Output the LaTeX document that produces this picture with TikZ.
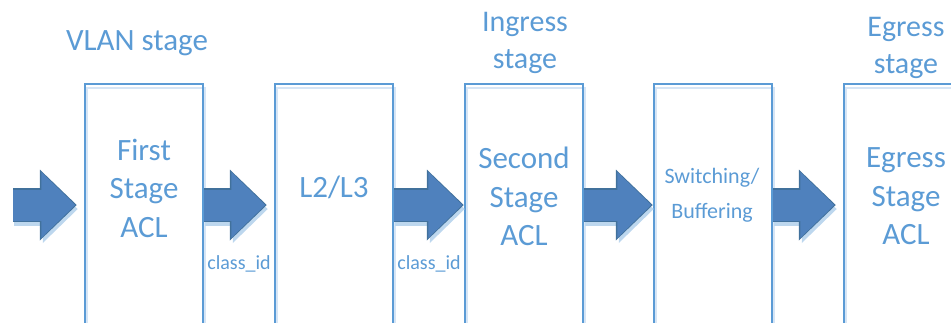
\documentclass[tikz,border=0pt]{standalone}
\usepackage{fontspec}
\setmainfont{Carlito}
\usetikzlibrary{arrows.meta}
\definecolor{txtblue}{RGB}{91,155,213}
\definecolor{boxshade}{RGB}{214,229,245}
\definecolor{arrowblue}{RGB}{79,129,189}
\definecolor{arrowedge}{RGB}{65,113,156}
\definecolor{arrowshade}{RGB}{189,215,238}

\begin{document}
\begin{tikzpicture}[
    x=1pt, y=-1pt,
    box/.style={draw=txtblue, line width=2.5pt, minimum width=118pt, minimum height=242pt, inner sep=0pt,
        preaction={draw=boxshade, line width=2pt, transform canvas={xshift=2pt,yshift=-4pt}}},
    big/.style={text=txtblue, font=\fontsize{31}{38.5}\selectfont, align=center, inner sep=0pt},
    head/.style={text=txtblue, font=\fontsize{30}{37}\selectfont, align=center, inner sep=0pt},
    small/.style={text=txtblue, font=\fontsize{22}{35}\selectfont, align=center, inner sep=0pt},
    tag/.style={text=txtblue, font=\fontsize{20}{24}\selectfont, inner sep=0pt},
    blkshade/.style={line width=33pt, draw=arrowshade, -{Triangle[length=35pt,width=68pt,line width=0pt]}},
    blkedge/.style={line width=34pt, draw=arrowedge, -{Triangle[length=37pt,width=71pt,line width=0pt]}},
    blk/.style={line width=31pt, draw=arrowblue, -{Triangle[length=34pt,width=66pt,line width=0pt]}},
    shaft/.style={line width=31pt, draw=arrowblue}
]
\useasboundingbox (0,0) rectangle (951,322);
\clip (0,0) rectangle (951,322);

\node[box] (b1) at (144,205) {};
\node[box] (b2) at (334,205) {};
\node[box] (b3) at (524,205) {};
\node[box] (b4) at (713,205) {};
\node[box] (b5) at (903,205) {};
\coordinate (in) at (13,205);

\node[big] (vlan) at (137,43.5) {VLAN stage};
\node[head] (ingress) at (525,43) {Ingress\\stage};
\node[head] (egress) at (906,47.5) {Egress\\stage};

\node[big] (acl1) at (144,188) {First\\Stage\\ACL};
\node[big] (l2l3) at (334,187) {L2/L3};
\node[big] (acl2) at (524,196.5) {Second\\Stage\\ACL};
\node[small] (sw) at (712,195) {Switching/\\Buffering};
\node[big] (acl3) at (906,196.5) {Egress\\Stage\\ACL};

\node[tag] (cid1) at (239,264) {class\_id};
\node[tag] (cid2) at (429,264) {class\_id};

\foreach \a/\b/\s in {in/b1/7, b1/b2/7, b2/b3/0, b3/b4/0, b4/b5/7}{
    \draw[blkshade, shorten >=\s pt, transform canvas={xshift=1pt,yshift=-4pt}] (\a) -- (\b.west);
    \draw[blkedge, shorten >=\s pt] (\a) -- (\b.west);
    \draw[blk, shorten >=\s pt+1.5pt] (\a) -- (\b.west);
    \draw[shaft, shorten >=\s pt+25pt] (\a) -- (\b.west);
}
\end{tikzpicture}
\end{document}
